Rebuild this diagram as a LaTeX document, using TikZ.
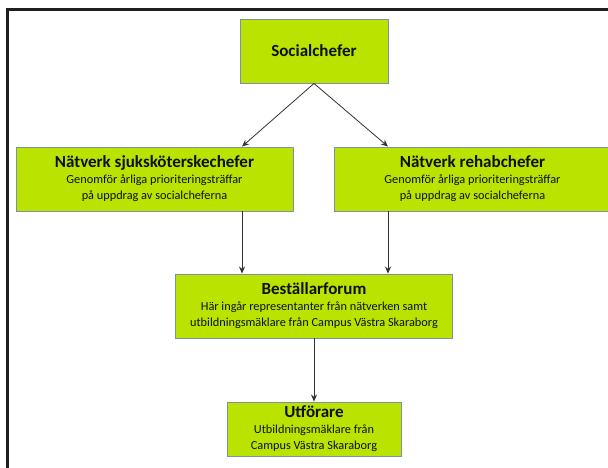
\documentclass[tikz,border=0pt]{standalone}
\usepackage{fontspec}
\setmainfont{Carlito}
\usetikzlibrary{arrows.meta}
\definecolor{boxfill}{RGB}{186,228,0}
\definecolor{boxline}{RGB}{125,145,175}
\definecolor{txt}{RGB}{15,15,15}
\definecolor{arrline}{RGB}{50,50,50}
\tikzset{
  gbox/.style={draw=boxline, line width=0.9pt, fill=boxfill, text=txt, align=center,
    inner sep=0pt, minimum width=#1, font=\fontsize{12.3}{16}\selectfont},
  arr/.style={draw=arrline, line width=0.8pt, -{Stealth[length=7pt,width=6pt]}}
}
\newcommand{\boxtitle}[1]{{\fontsize{17}{19}\selectfont\bfseries #1}}
\begin{document}
\begin{tikzpicture}[x=1pt,y=-1pt]
\useasboundingbox (0,0) rectangle (608,467);
\clip (0,0) rectangle (608,467);
\draw[line width=2.5pt, color=black!88] (7.5,9.5) rectangle (640,500);
\node[gbox=148pt, minimum height=64pt] (sc) at (314,51) {\boxtitle{Socialchefer}};
\node[gbox=277pt, minimum height=64pt] (nsk) at (154.5,179)
  {\boxtitle{Nätverk sjuksköterskechefer}\\Genomför årliga prioriteringsträffar\\på uppdrag av socialcheferna};
\node[gbox=277pt, minimum height=64pt] (rb) at (472.5,179)
  {\boxtitle{Nätverk rehabchefer}\\Genomför årliga prioriteringsträffar\\på uppdrag av socialcheferna};
\node[gbox=277pt, minimum height=64pt] (bf) at (314,306)
  {\boxtitle{Beställarforum}\\Här ingår representanter från nätverken samt\\utbildningsmäklare från Campus Västra Skaraborg};
\node[gbox=174pt, minimum height=54pt] (ut) at (314,429)
  {\boxtitle{Utförare}\\Utbildningsmäklare från\\Campus Västra Skaraborg};
\draw[arr] (sc.south) -- ([xshift=87.5pt]nsk.north);
\draw[arr] (sc.south) -- ([xshift=-84.5pt]rb.north);
\draw[arr] ([xshift=87.5pt]nsk.south) -- ([xshift=87.5pt]nsk.south |- bf.north);
\draw[arr] ([xshift=-84.5pt]rb.south) -- ([xshift=-84.5pt]rb.south |- bf.north);
\draw[arr] (bf.south) -- (ut.north);
\end{tikzpicture}
\end{document}
